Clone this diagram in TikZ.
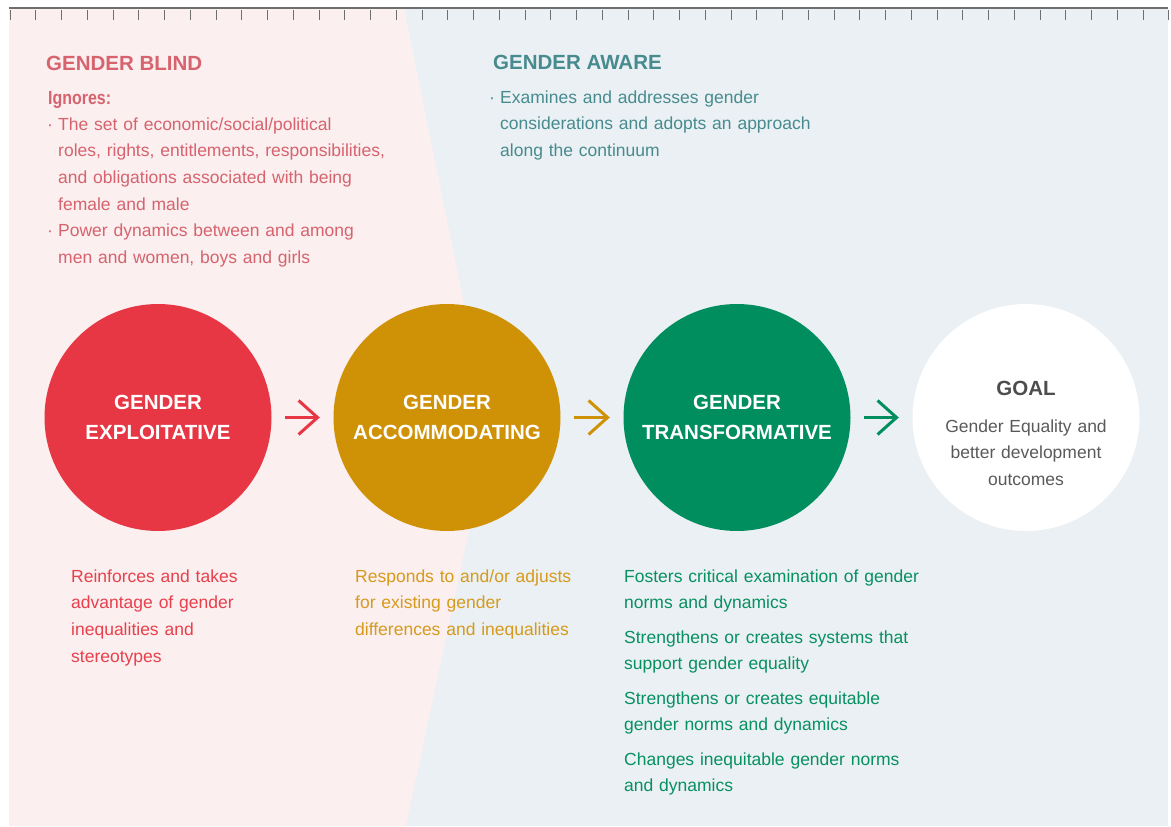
\documentclass[tikz,border=0pt]{standalone}
\usepackage{fontspec}
\setmainfont{Liberation Sans}
\newfontfamily\condfont[FakeStretch=0.84]{Liberation Sans}
\usetikzlibrary{arrows.meta}
\definecolor{bgpink}{HTML}{FBEFEF}
\definecolor{bgblue}{HTML}{EAF0F3}
\definecolor{blindcol}{HTML}{D6636E}
\definecolor{awarecol}{HTML}{478B8F}
\definecolor{expcol}{HTML}{E73744}
\definecolor{acccol}{HTML}{CF9106}
\definecolor{trcol}{HTML}{008E5E}
\definecolor{exptxt}{HTML}{E8404C}
\definecolor{acctxt}{HTML}{D69A1C}
\definecolor{trtxt}{HTML}{079060}
\definecolor{goaldark}{HTML}{4D4D4D}
\definecolor{goaltxt}{HTML}{5A5A5A}
\definecolor{rulecol}{HTML}{6E6E6E}
\begin{document}
\begin{tikzpicture}[x=1pt,y=-1pt,
  title/.style={anchor=base west, inner sep=0pt, font=\bfseries\fontsize{20.5}{24}\selectfont},
  para/.style={anchor=base west, inner sep=0pt, text width=#1, align=left,
    font=\fontsize{17.5}{26.67}\selectfont},
  para/.default=400pt,
  bul/.style={anchor=base west, inner sep=0pt, font=\fontsize{17.5}{26.67}\selectfont},
  stage/.style={circle, inner sep=0pt, minimum size=227pt, text=white, align=center,
    font=\bfseries\fontsize{20.5}{30}\selectfont},
  arr/.style={line width=3pt, -{Straight Barb[length=19pt,width=34pt]},
    shorten <=13.5pt, shorten >=13.5pt}
]
\useasboundingbox (0,0) rectangle (1171,827);
% backgrounds
\fill[bgblue] (9,8) rectangle (1168,826);
\fill[bgpink] (9,8) -- (404,8) -- (490,432) -- (406,826) -- (9,826) -- cycle;
% ruler
\draw[rulecol, line width=1.1pt] (9,8) -- (1168,8);
\foreach \i in {0,...,45} \draw[rulecol, line width=1pt] (10+25.75*\i,10) -- (10+25.75*\i,20);
% gender blind
\node[title, blindcol] (blindtitle) at (46,70) {GENDER BLIND};
\node[anchor=base west, inner sep=0pt, blindcol, font=\condfont\bfseries\fontsize{19}{24}\selectfont] (ignores) at (48,104.5) {Ignores:};
\node[bul, blindcol] (blindb1) at (47,130) {·};
\node[para, blindcol] (blindp1) at (58,130) {The set of economic/social/political\\roles, rights, entitlements, responsibilities,\\and obligations associated with being\\female and male};
\node[bul, blindcol] (blindb2) at (47,236.7) {·};
\node[para, blindcol] (blindp2) at (58,236.7) {Power dynamics between and among\\men and women, boys and girls};
% gender aware
\node[title, awarecol] (awaretitle) at (493,69.5) {GENDER AWARE};
\node[bul, awarecol] (awareb) at (489,103.3) {·};
\node[para, awarecol] (awarep) at (500,103.3) {Examines and addresses gender\\considerations and adopts an approach\\along the continuum};
% circles
\node[stage, fill=expcol] (c1) at (158,417.5) {GENDER\\EXPLOITATIVE};
\node[stage, fill=acccol] (c2) at (447,417.5) {GENDER\\ACCOMMODATING};
\node[stage, fill=trcol] (c3) at (737,417.5) {GENDER\\TRANSFORMATIVE};
\node[stage, fill=white] (c4) at (1026,417.5) {};
\node[anchor=base, inner sep=0pt, goaldark, font=\bfseries\fontsize{20.5}{24}\selectfont] (goaltitle) at (1026,395) {GOAL};
\node[anchor=base, inner sep=0pt, text width=200pt, align=center, goaltxt,
  font=\fontsize{17.5}{26.67}\selectfont] (goaltext) at (1026,432) {Gender Equality and\\better development\\outcomes};
% arrows
\draw[arr, expcol] (c1) -- (c2);
\draw[arr, acccol] (c2) -- (c3);
\draw[arr, trcol] (c3) -- (c4);
% descriptions
\node[para, exptxt] (exptext) at (71,582.3) {Reinforces and takes\\advantage of gender\\inequalities and\\stereotypes};
\node[para, acctxt] (acctext) at (355,582.3) {Responds to and/or adjusts\\for existing gender\\differences and inequalities};
\node[para, trtxt] (tr1) at (624,582.3) {Fosters critical examination of gender\\norms and dynamics};
\node[para, trtxt] (tr2) at (624,643) {Strengthens or creates systems that\\support gender equality};
\node[para, trtxt] (tr3) at (624,704) {Strengthens or creates equitable\\gender norms and dynamics};
\node[para, trtxt] (tr4) at (624,765) {Changes inequitable gender norms\\and dynamics};
\end{tikzpicture}
\end{document}
